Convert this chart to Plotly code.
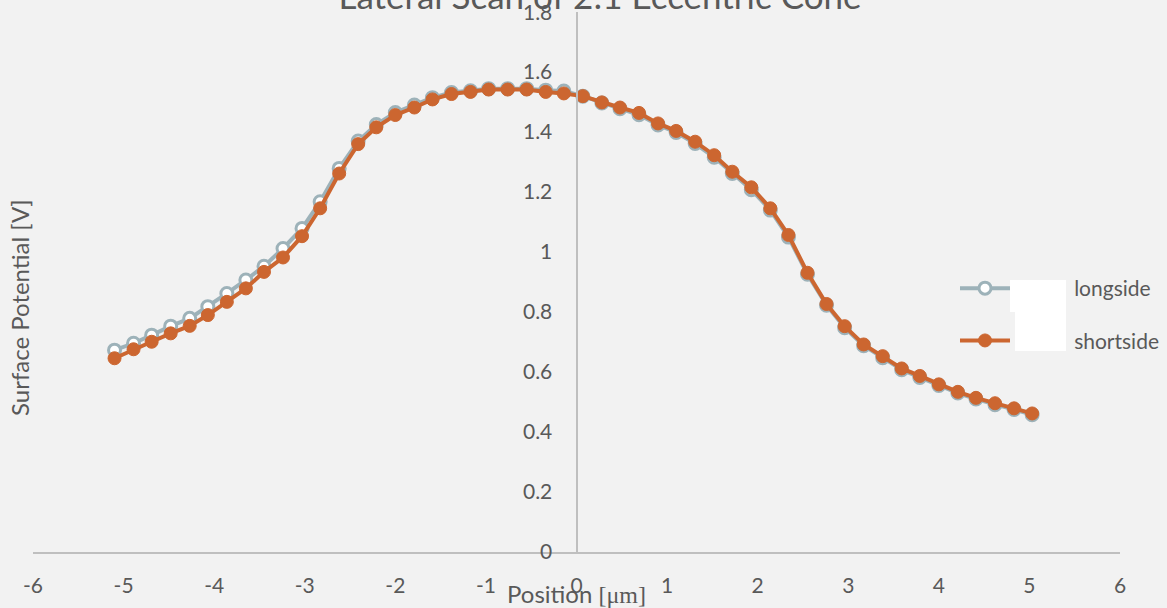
import plotly.graph_objects as go

# Scan positions along the cone (µm)
position_um = [-5.10, -4.89, -4.69, -4.48, -4.27, -4.07, -3.86, -3.65, -3.45, -3.24,
               -3.03, -2.83, -2.62, -2.41, -2.21, -2.00, -1.79, -1.59, -1.38, -1.17,
               -0.97, -0.76, -0.55, -0.34, -0.14, 0.07, 0.28, 0.48, 0.69, 0.90,
               1.10, 1.31, 1.52, 1.72, 1.93, 2.14, 2.34, 2.55, 2.76, 2.96,
               3.17, 3.38, 3.59, 3.79, 4.00, 4.21, 4.41, 4.62, 4.83, 5.03]

# Surface potential (V) along the long side of the cone
longside_v = [0.673, 0.696, 0.723, 0.753, 0.779, 0.818, 0.862, 0.907, 0.953, 1.012,
              1.079, 1.168, 1.279, 1.370, 1.425, 1.465, 1.490, 1.515, 1.532, 1.538,
              1.545, 1.545, 1.545, 1.540, 1.537, 1.520, 1.497, 1.478, 1.458, 1.424,
              1.399, 1.362, 1.316, 1.262, 1.208, 1.140, 1.050, 0.926, 0.823, 0.748,
              0.688, 0.648, 0.608, 0.582, 0.555, 0.530, 0.510, 0.491, 0.475, 0.458]

# Surface potential (V) along the short side of the cone
shortside_v = [0.646, 0.676, 0.701, 0.729, 0.754, 0.790, 0.834, 0.879, 0.934, 0.982,
               1.053, 1.146, 1.262, 1.360, 1.416, 1.457, 1.482, 1.509, 1.527, 1.534,
               1.542, 1.542, 1.542, 1.534, 1.529, 1.520, 1.499, 1.482, 1.464, 1.429,
               1.404, 1.368, 1.323, 1.268, 1.216, 1.146, 1.057, 0.931, 0.827, 0.753,
               0.692, 0.653, 0.612, 0.587, 0.559, 0.534, 0.514, 0.496, 0.479, 0.462]

x_ticks = [-6, -5, -4, -3, -2, -1, 0, 1, 2, 3, 4, 5, 6]
y_ticks = [0, 0.2, 0.4, 0.6, 0.8, 1.0, 1.2, 1.4, 1.6, 1.8]
y_tick_labels = ["0", "0.2", "0.4", "0.6", "0.8", "1", "1.2", "1.4", "1.6", "1.8"]

GREY = "#9db2b9"
ORANGE = "#cc6630"
TEXT = "#595959"
AXIS = "#bfbfbf"
BG = "#f2f2f2"
FONT = "Lato, 'Open Sans', sans-serif"

W, H = 1167, 608
ML, MR, MT, MB = 33, 47, 12, 56
PW, PH = W - ML - MR, H - MT - MB

PAD = "\u00a0" * 11  # gap between legend swatch and legend label


def px(x):
    return (x - ML) / PW


def py(y):
    return (H - MB - y) / PH


fig = go.Figure()
fig.add_trace(go.Scatter(
    x=position_um, y=longside_v, name=PAD + "longside", mode="lines+markers",
    legendgroup="long",
    line=dict(color=GREY, width=4),
    marker=dict(symbol="circle", size=12, color="white",
                line=dict(color=GREY, width=3)),
))
fig.add_trace(go.Scatter(
    x=position_um, y=shortside_v, name=PAD + "shortside", mode="lines+markers",
    legendgroup="short",
    line=dict(color=ORANGE, width=4),
    marker=dict(symbol="circle", size=13, color=ORANGE,
                line=dict(color=ORANGE, width=1)),
))

fig.update_layout(
    width=W, height=H,
    margin=dict(l=ML, r=MR, t=MT, b=MB, pad=0, autoexpand=False),
    paper_bgcolor=BG, plot_bgcolor=BG,
    font=dict(family=FONT, size=21, color=TEXT),
    title=dict(text="Lateral Scan of 2:1 Eccentric Cone",
               x=px(600), xanchor="center", xref="paper",
               y=1 - 9 / H, yanchor="bottom", yref="container",
               font=dict(size=35, color=TEXT)),
    xaxis=dict(range=[-6, 6], tickvals=x_ticks, ticktext=[str(v) for v in x_ticks],
               showgrid=False, zeroline=False, showline=True, linecolor=AXIS,
               linewidth=2, ticks="", ticklabelstandoff=14,
               tickfont=dict(size=21, color=TEXT)),
    yaxis=dict(range=[0, 1.8005], tickvals=y_ticks, ticktext=y_tick_labels,
               anchor="free", position=0.5, side="left",
               showgrid=False, zeroline=False, showline=True, linecolor=AXIS,
               linewidth=2, ticks="", ticklabelstandoff=19,
               ticklabeloverflow="allow",
               tickfont=dict(size=21, color=TEXT)),
    legend=dict(x=px(955), y=py(268), xanchor="left", yanchor="top",
                bgcolor="rgba(0,0,0,0)", itemwidth=50, tracegroupgap=22,
                font=dict(size=21, color=TEXT)),
    annotations=[
        dict(text="Position <span style='font-family:Liberation Serif'>[μm]</span>",
             xref="paper", yref="paper", x=px(576), y=py(593), showarrow=False,
             xanchor="center", yanchor="middle", font=dict(size=24, color=TEXT)),
        dict(text="Surface Potential [V]", xref="paper", yref="paper",
             x=px(19), y=py(308), showarrow=False, textangle=-90,
             xanchor="center", yanchor="middle", font=dict(size=24, color=TEXT)),
    ],
    shapes=[
        dict(type="rect", xref="paper", yref="paper", x0=px(1010), x1=px(1066),
             y0=py(312), y1=py(280), fillcolor="white", line=dict(width=0),
             layer="above"),
        dict(type="rect", xref="paper", yref="paper", x0=px(1015), x1=px(1066),
             y0=py(351), y1=py(312), fillcolor="white", line=dict(width=0),
             layer="above"),
    ],
)

fig.write_html("out.html")
